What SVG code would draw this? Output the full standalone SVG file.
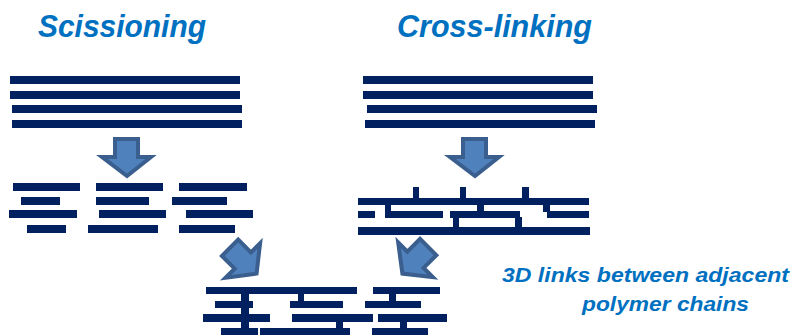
<svg xmlns="http://www.w3.org/2000/svg" width="796" height="335" viewBox="0 0 796 335">
<style>
.t{font-family:"Liberation Sans",Arial,sans-serif;font-weight:bold;font-style:italic;fill:#0070C0}
.c{fill:#002060}
.ar{fill:#4F81BD;stroke:#3A5E8E;stroke-width:4;stroke-linejoin:miter}
</style>
<defs>
<polygon id="arrow" class="ar" points="-12,-39 11,-39 11,-21 24,-21 0,-2 -25,-21 -12,-21"/>
</defs>
<rect width="796" height="335" fill="#fff"/>
<g id="title-scissioning"><text class="t" x="38" y="37" font-size="32" textLength="168" lengthAdjust="spacingAndGlyphs">Scissioning</text></g>
<g id="title-crosslinking"><text class="t" x="397" y="37" font-size="32" textLength="195" lengthAdjust="spacingAndGlyphs">Cross-linking</text></g>
<g id="chains-left" class="c">
<rect x="10" y="76" width="230" height="8"/>
<rect x="10" y="91" width="230" height="8"/>
<rect x="12" y="105" width="230" height="8"/>
<rect x="12" y="120" width="230" height="8"/>
</g>
<g id="chains-right" class="c">
<rect x="363" y="76" width="230" height="8"/>
<rect x="363" y="91" width="230" height="8"/>
<rect x="367" y="105" width="230" height="8"/>
<rect x="365" y="120" width="230" height="8"/>
</g>
<g id="fragments" class="c">
<rect x="13" y="183" width="67" height="8"/>
<rect x="96" y="183" width="67" height="8"/>
<rect x="179" y="183" width="68" height="8"/>
<rect x="21" y="197" width="39" height="8"/>
<rect x="96" y="197" width="53" height="8"/>
<rect x="172" y="197" width="55" height="8"/>
<rect x="9" y="210" width="68" height="8"/>
<rect x="99" y="210" width="67" height="8"/>
<rect x="186" y="210" width="67" height="8"/>
<rect x="27" y="225" width="39" height="8"/>
<rect x="88" y="225" width="70" height="8"/>
<rect x="179" y="225" width="56" height="8"/>
</g>
<g id="crosslinked" class="c">
<rect x="413" y="187" width="6" height="12"/>
<rect x="460" y="187" width="6" height="12"/>
<rect x="522" y="187" width="7" height="12"/>
<rect x="358" y="198" width="231" height="7"/>
<rect x="358" y="211" width="17" height="7"/>
<rect x="385" y="211" width="58" height="7"/>
<rect x="450" y="211" width="70" height="7"/>
<rect x="547" y="211" width="42" height="7"/>
<rect x="385" y="204" width="6" height="8"/>
<rect x="477" y="204" width="7" height="8"/>
<rect x="543" y="204" width="7" height="8"/>
<rect x="453" y="217" width="6" height="11"/>
<rect x="515" y="217" width="7" height="11"/>
<rect x="358" y="227" width="232" height="8"/>
</g>
<g id="result" class="c">
<rect x="206" y="287" width="151" height="7"/>
<rect x="373" y="287" width="67" height="7"/>
<rect x="215" y="301" width="38" height="7"/>
<rect x="290" y="301" width="53" height="7"/>
<rect x="365" y="301" width="56" height="7"/>
<rect x="203" y="314" width="67" height="8"/>
<rect x="292" y="314" width="81" height="8"/>
<rect x="378" y="314" width="69" height="8"/>
<rect x="221" y="328" width="37" height="7"/>
<rect x="260" y="328" width="90" height="7"/>
<rect x="372" y="328" width="56" height="7"/>
<rect x="241" y="293" width="8" height="36"/>
<rect x="298" y="293" width="6" height="9"/>
<rect x="336" y="321" width="7" height="8"/>
<rect x="389" y="293" width="7" height="9"/>
<rect x="400" y="321" width="7" height="8"/>
</g>
<g id="connectors">
<use href="#arrow" transform="translate(127,178)"/>
<use href="#arrow" transform="translate(475,178)"/>
<use href="#arrow" transform="translate(258,275) rotate(-45)"/>
<use href="#arrow" transform="translate(401,275) rotate(45)"/>
</g>
<g id="label"><text class="t" x="502" y="282" font-size="21" textLength="287" lengthAdjust="spacingAndGlyphs">3D links between adjacent</text>
<text class="t" x="582" y="311" font-size="21" textLength="167" lengthAdjust="spacingAndGlyphs">polymer chains</text></g>
</svg>
